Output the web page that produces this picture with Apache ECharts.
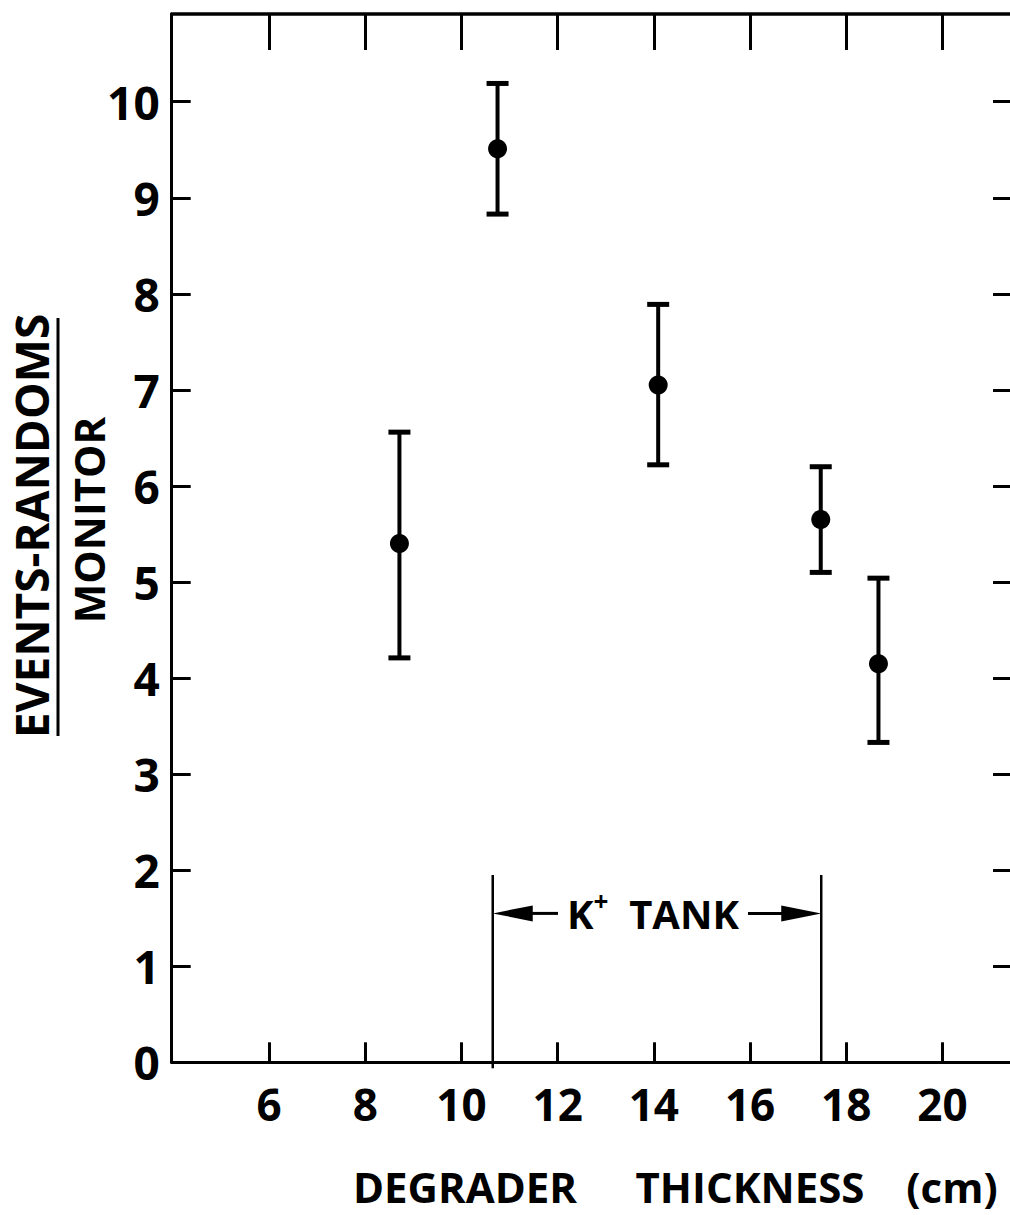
<!DOCTYPE html>
<html>
<head>
<meta charset="utf-8">
<script src="https://cdn.jsdelivr.net/npm/echarts@6/dist/echarts.min.js"></script>
<style>
html,body{margin:0;padding:0;background:#fff;}
#chart{width:1010px;height:1215px;}
</style>
</head>
<body>
<div id="chart"></div>
<script>
// ---- data ----
var thickness = [8.71, 10.75, 14.09, 17.47, 18.67];
var rate      = [5.40, 9.51, 7.05, 5.65, 4.15];
var errLow    = [4.21, 8.83, 6.22, 5.10, 3.33];
var errHigh   = [6.56, 10.19, 7.89, 6.20, 5.04];
var xTicks    = [6, 8, 10, 12, 14, 16, 18, 20];
var yTicks    = [0, 1, 2, 3, 4, 5, 6, 7, 8, 9, 10];
var tankStart = 10.65;
var tankEnd   = 17.48;
var tankTop   = 1.95;
var tankArrowY = 1.55;
var xTitleWords = ['DEGRADER', 'THICKNESS', '(cm)'];
var yTitleNum = 'EVENTS-RANDOMS';
var yTitleDen = 'MONITOR';

var FONT = '"Open Sans", "DejaVu Sans", sans-serif';

var pts = thickness.map(function (x, i) { return [x, rate[i]]; });
var errs = thickness.map(function (x, i) { return [x, errLow[i], errHigh[i]]; });

var chart = echarts.init(document.getElementById('chart'), null, {renderer: 'svg'});

var titleCenters = [465, 750, 952];

var option = {
  backgroundColor: '#fff',
  animation: false,
  grid: {left: 171.7, top: 14, right: -2, bottom: 152.7, containLabel: false},
  xAxis: [{
    type: 'value', position: 'bottom', min: 3.975, max: 21.405,
    axisLine: {show: true, onZero: false, lineStyle: {color: '#000', width: 3}},
    axisTick: {show: true, inside: true, length: 20, customValues: xTicks, lineStyle: {color: '#000', width: 3}},
    axisLabel: {show: true, customValues: xTicks, margin: 20, color: '#000', fontFamily: FONT, fontWeight: 'bold', fontSize: 44},
    splitLine: {show: false}
  }, {
    type: 'value', position: 'top', min: 3.975, max: 21.405,
    axisLine: {show: true, onZero: false, lineStyle: {color: '#000', width: 3.5}},
    axisTick: {show: true, inside: true, length: 36, customValues: xTicks, lineStyle: {color: '#000', width: 3}},
    axisLabel: {show: false},
    splitLine: {show: false}
  }],
  yAxis: [{
    type: 'value', position: 'left', min: 0, max: 10.913, interval: 1,
    axisLine: {show: true, onZero: false, lineStyle: {color: '#000', width: 3}},
    axisTick: {show: true, inside: true, length: 19, customValues: yTicks, lineStyle: {color: '#000', width: 3}},
    axisLabel: {show: true, customValues: yTicks, margin: 12, color: '#000', fontFamily: FONT, fontWeight: 'bold', fontSize: 46},
    splitLine: {show: false}
  }, {
    type: 'value', position: 'right', min: 0, max: 10.913, interval: 1,
    axisLine: {show: false},
    axisTick: {show: true, inside: true, length: 17, customValues: yTicks.slice(1), lineStyle: {color: '#000', width: 3}},
    axisLabel: {show: false},
    splitLine: {show: false}
  }],
  graphic: [
    {type: 'text', x: 31, y: 526, rotation: Math.PI / 2, style: {text: yTitleNum, fill: '#000', font: 'bold 46px ' + FONT, align: 'center', verticalAlign: 'middle'}},
    {type: 'line', shape: {x1: 58, y1: 318, x2: 58, y2: 736}, style: {stroke: '#000', lineWidth: 3}},
    {type: 'text', x: 88, y: 520, rotation: Math.PI / 2, style: {text: yTitleDen, fill: '#000', font: 'bold 42px ' + FONT, align: 'center', verticalAlign: 'middle'}}
  ].concat(xTitleWords.map(function (w, i) {
    return {type: 'text', x: titleCenters[i], y: 1186, style: {text: w, fill: '#000', font: 'bold 42px ' + FONT, align: 'center', verticalAlign: 'middle'}};
  })),
  series: [
    {
      type: 'custom', name: 'errors', data: errs, xAxisIndex: 0, yAxisIndex: 0, z: 3,
      renderItem: function (params, api) {
        var lo = api.coord([api.value(0), api.value(1)]);
        var hi = api.coord([api.value(0), api.value(2)]);
        var hw = 11;
        var st = {stroke: '#000', lineWidth: 4};
        return {type: 'group', children: [
          {type: 'line', shape: {x1: lo[0], y1: lo[1], x2: hi[0], y2: hi[1]}, style: st},
          {type: 'line', shape: {x1: lo[0] - hw, y1: lo[1], x2: lo[0] + hw, y2: lo[1]}, style: {stroke: '#000', lineWidth: 5}},
          {type: 'line', shape: {x1: hi[0] - hw, y1: hi[1], x2: hi[0] + hw, y2: hi[1]}, style: {stroke: '#000', lineWidth: 5}}
        ]};
      }
    },
    {
      type: 'scatter', name: 'points', data: pts, symbol: 'circle', symbolSize: 19, z: 4,
      itemStyle: {color: '#000', opacity: 1}
    },
    {
      type: 'custom', name: 'tank', data: [[tankStart, tankEnd, tankTop, tankArrowY]], z: 3,
      renderItem: function (params, api) {
        var s0 = api.coord([api.value(0), 0]);
        var s1 = api.coord([api.value(0), api.value(2)]);
        var e0 = api.coord([api.value(1), 0]);
        var e1 = api.coord([api.value(1), api.value(2)]);
        var a0 = api.coord([api.value(0), api.value(3)]);
        var a1 = api.coord([api.value(1), api.value(3)]);
        var y = a0[1];
        var cx = (a0[0] + a1[0]) / 2 - 4;
        var headL = 40, headH = 8;
        var textHalf = 95;
        var st = {stroke: '#000', lineWidth: 2.5};
        return {type: 'group', children: [
          {type: 'line', shape: {x1: s0[0], y1: s0[1] + 6, x2: s1[0], y2: s1[1]}, style: st},
          {type: 'line', shape: {x1: e0[0], y1: e0[1], x2: e1[0], y2: e1[1]}, style: st},
          {type: 'polygon', shape: {points: [[a0[0], y], [a0[0] + headL, y - headH], [a0[0] + headL, y + headH]]}, style: {fill: '#000'}},
          {type: 'line', shape: {x1: a0[0] + headL - 2, y1: y, x2: cx - textHalf, y2: y}, style: {stroke: '#000', lineWidth: 3}},
          {type: 'polygon', shape: {points: [[a1[0], y], [a1[0] - headL, y - headH], [a1[0] - headL, y + headH]]}, style: {fill: '#000'}},
          {type: 'line', shape: {x1: a1[0] - headL + 2, y1: y, x2: cx + textHalf, y2: y}, style: {stroke: '#000', lineWidth: 3}},
          {type: 'text', x: cx, y: y, style: {
            text: '{k|K}{s|+}{t|  TANK}',
            align: 'center', verticalAlign: 'middle',
            rich: {
              k: {fontFamily: FONT, fontWeight: 'bold', fontSize: 40, fill: '#000', verticalAlign: 'middle'},
              s: {fontFamily: FONT, fontWeight: 'bold', fontSize: 26, fill: '#000', verticalAlign: 'top', padding: [0, 0, 24, 0]},
              t: {fontFamily: FONT, fontWeight: 'bold', fontSize: 40, fill: '#000', verticalAlign: 'middle'}
            }
          }}
        ]};
      }
    }
  ]
};
chart.setOption(option);
</script>
</body>
</html>
